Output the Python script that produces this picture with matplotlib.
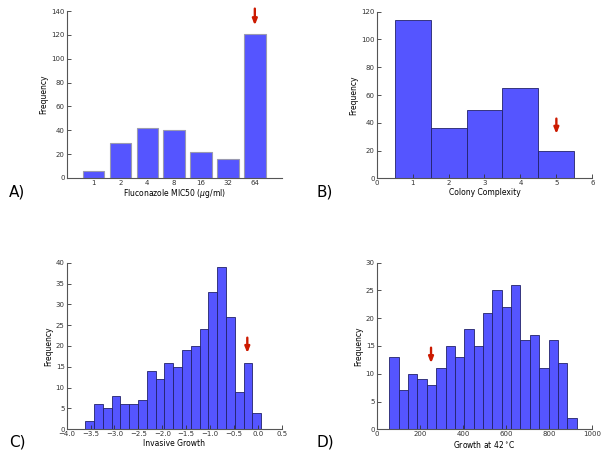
import numpy as np
import matplotlib
matplotlib.use('Agg')
import matplotlib.pyplot as plt

# A) fluconazole MIC50 categories
mic_labels = ['1', '2', '4', '8', '16', '32', '64']
mic_counts = [6, 29, 42, 40, 22, 16, 121]

# B) colony complexity
cc_scores = [1, 2, 3, 4, 5]
cc_counts = [114, 36, 49, 65, 20]

# C) invasive growth histogram
inv_range = (-3.61, 0.07)
inv_counts = [2, 6, 5, 8, 6, 6, 7, 14, 12, 16, 15, 19, 20, 24, 33, 39, 27, 9, 16, 4]

# D) growth at 42C histogram
g42_range = (58.7, 927.4)
g42_counts = [13, 7, 10, 9, 8, 11, 15, 13, 18, 15, 21, 25, 22, 26, 16, 17, 11, 16, 12, 2]

# arrows (x, tail y, tip y)
arrows = {'A': (6, 142, 128), 'B': (5, 43, 32), 'C': (-0.22, 22, 18.3), 'D': (252, 14.7, 11.9)}

BAR = '#5555ff'
EDGE = '#22226a'
TICKFS = 5
LABFS = 5.5

fig = plt.figure(figsize=(6.09, 4.59), dpi=100)
W, H = 609., 459.

def make_ax(x0, x1, ytop, ybot):
    ax = fig.add_axes([x0 / W, 1 - ybot / H, (x1 - x0) / W, (ybot - ytop) / H])
    for s in ['top', 'right']:
        ax.spines[s].set_visible(False)
    for s in ['left', 'bottom']:
        ax.spines[s].set_color('#555555')
        ax.spines[s].set_linewidth(0.8)
    ax.tick_params(direction='in', length=3, width=0.6, labelsize=TICKFS,
                   colors='#333333', pad=1.5, top=False, right=False)
    ax.set_ylabel('Frequency', fontsize=LABFS, labelpad=2)
    return ax

def arrow(ax, key):
    x, y0, y1 = arrows[key]
    ax.annotate('', xy=(x, y1), xytext=(x, y0), annotation_clip=False,
                arrowprops=dict(arrowstyle='-|>,head_length=0.35,head_width=0.14',
                                color='#cc1a00', lw=1.7, shrinkA=0, shrinkB=0))

# A
axA = make_ax(66.7, 281.7, 11, 178)
pos = np.arange(len(mic_labels))
axA.bar(pos, mic_counts, width=0.8, color=BAR, edgecolor='#9a9ab0', linewidth=0.8)
axA.set_xlim(-1, 7)
axA.set_ylim(0, 140)
axA.set_xticks(pos)
axA.set_xticklabels(mic_labels)
axA.set_yticks(np.arange(0, 141, 20))
axA.set_xlabel('Fluconazole MIC50 ($\\mu$g/ml)', fontsize=LABFS, labelpad=1)
axA.tick_params(axis='x', length=0)
arrow(axA, 'A')

# B
axB = make_ax(376.7, 592.3, 11.7, 178.3)
axB.bar(cc_scores, cc_counts, width=1.0, color=BAR, edgecolor=EDGE, linewidth=0.6)
axB.set_xlim(0, 6)
axB.set_ylim(0, 120)
axB.set_yticks(np.arange(0, 121, 20))
axB.set_xlabel('Colony Complexity', fontsize=LABFS, labelpad=1)
arrow(axB, 'B')

# C
axC = make_ax(66.7, 281.7, 262.7, 429.3)
edges = np.linspace(inv_range[0], inv_range[1], len(inv_counts) + 1)
axC.bar(edges[:-1], inv_counts, width=np.diff(edges), align='edge',
        color=BAR, edgecolor=EDGE, linewidth=0.6)
axC.set_xlim(-4, 0.5)
axC.set_ylim(0, 40)
axC.set_xticks(np.arange(-4, 0.51, 0.5))
axC.set_yticks(np.arange(0, 41, 5))
axC.set_xlabel('Invasive Growth', fontsize=LABFS, labelpad=1)
arrow(axC, 'C')

# D
axD = make_ax(376.7, 592.3, 262.7, 429.3)
edges = np.linspace(g42_range[0], g42_range[1], len(g42_counts) + 1)
axD.bar(edges[:-1], g42_counts, width=np.diff(edges), align='edge',
        color=BAR, edgecolor=EDGE, linewidth=0.6)
axD.set_xlim(0, 1000)
axD.set_ylim(0, 30)
axD.set_xticks(np.arange(0, 1001, 200))
axD.set_yticks(np.arange(0, 31, 5))
axD.set_xlabel('Growth at 42$^\\circ$C', fontsize=LABFS, labelpad=1)
arrow(axD, 'D')

for lbl, x, y in [('A)', 9, 192), ('B)', 317, 192), ('C)', 9, 442), ('D)', 317, 442)]:
    fig.text(x / W, 1 - y / H, lbl, fontsize=11, va='center', ha='left')

fig.savefig('out.png', dpi=100)
